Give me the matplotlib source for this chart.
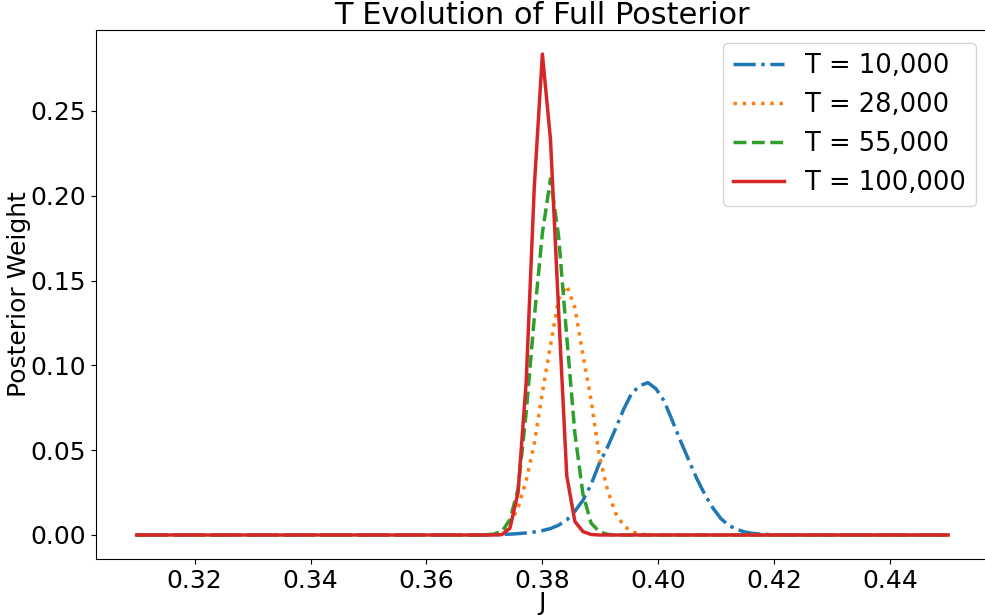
import numpy as np
import matplotlib
matplotlib.use("Agg")
import matplotlib.pyplot as plt

# J grid used for the posterior (101 points between 0.31 and 0.45)
J = np.linspace(0.31, 0.45, 101)

# Posterior weights; outside the listed window the weight is 0
t10k_start = 44
t10k = [0.0002, 0.0003, 0.0005, 0.0008, 0.0012, 0.0018, 0.0026, 0.0038, 0.0058,
        0.0088, 0.0140, 0.0205, 0.0298, 0.0420, 0.0515, 0.0625, 0.0740, 0.0835,
        0.0880, 0.0898, 0.0862, 0.0790, 0.0675, 0.0557, 0.0445, 0.0335, 0.0240,
        0.0160, 0.0096, 0.0056, 0.0032, 0.0017, 0.0009, 0.0005, 0.0003, 0.0001]

t28k_start = 43
t28k = [0.0001, 0.0005, 0.0020, 0.0065, 0.0160, 0.0320, 0.0540, 0.0840, 0.1120,
        0.1390, 0.1470, 0.1340, 0.1060, 0.0795, 0.0470, 0.0270, 0.0130, 0.0055,
        0.0020, 0.0006, 0.0001]

t55k_start = 43
t55k = [0.0001, 0.0005, 0.0020, 0.0090, 0.0270, 0.0720, 0.1280, 0.1780, 0.2100,
        0.1760, 0.1170, 0.0600, 0.0240, 0.0070, 0.0020, 0.0004]

t100k_start = 45
t100k = [0.0002, 0.0040, 0.0250, 0.0900, 0.2050, 0.2835, 0.2330, 0.1320, 0.0350,
         0.0080, 0.0020, 0.0003]

labels = ["T = 10,000", "T = 28,000", "T = 55,000", "T = 100,000"]
colors = ["#1f77b4", "#ff7f0e", "#2ca02c", "#d62728"]
styles = ["-.", ":", "--", "-"]


def full_series(start, vals):
    w = np.zeros(len(J))
    w[start:start + len(vals)] = vals
    return w


series = [full_series(t10k_start, t10k), full_series(t28k_start, t28k),
          full_series(t55k_start, t55k), full_series(t100k_start, t100k)]

fig = plt.figure(figsize=(9.85, 6.15), dpi=100)
ax = fig.add_axes([0.0975, 0.091, 0.9063, 0.8602])

for i, w in enumerate(series):
    ax.plot(J, w, linestyle=styles[i], color=colors[i], linewidth=2.5, label=labels[i])

ax.set_title("T Evolution of Full Posterior", fontsize=22, pad=1)
ax.set_xlabel("J", fontsize=18, labelpad=-1)
ax.set_ylabel("Posterior Weight", fontsize=18, labelpad=0)
ax.tick_params(labelsize=18)
ax.legend(fontsize=18.5, loc="upper right")

fig.savefig("out.png", dpi=100)
